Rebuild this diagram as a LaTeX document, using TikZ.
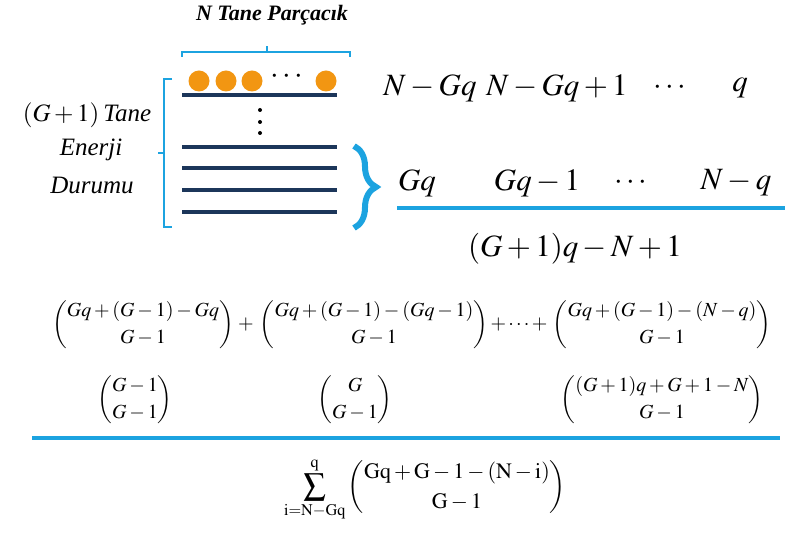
\documentclass[tikz,border=0pt]{standalone}
\usepackage{amsmath}
\usepackage{mathptmx}
\usepackage{fontspec}
\setmainfont{Liberation Serif}
\usetikzlibrary{decorations.pathreplacing}

\definecolor{lineblue}{RGB}{28,163,224}
\definecolor{levelnavy}{RGB}{28,54,90}
\definecolor{dotorange}{RGB}{242,150,18}

\begin{document}
\begin{tikzpicture}[
    x=1pt, y=-1pt,
    every node/.style={inner sep=0pt},
    level/.style={levelnavy, line width=4pt},
    bar/.style={lineblue, line width=4pt},
    bracket/.style={lineblue, line width=2pt},
    ball/.style={circle, fill=dotorange, minimum size=21pt},
    vdot/.style={circle, fill=black, minimum size=4pt},
    bigtxt/.style={font=\fontsize{31}{36}\selectfont},
    sidetxt/.style={font=\fontsize{25}{30}\selectfont},
    bintxt/.style={font=\fontsize{20}{24}\selectfont},
]
    \useasboundingbox (0,0) rectangle (790,534);

    % particles and levels
    \node[font=\fontsize{22}{24}\selectfont\bfseries\itshape] (title) at (272,15) {N Tane Parçacık};
    \draw[bracket] (182,57) -- (182,52) -- (350,52) -- (350,57);
    \draw[bracket] (267,52) -- (267,46);
    \foreach \x/\n in {199/a,226/b,252/c,326/d}
        \node[ball] (ball\n) at (\x,81) {};
    \node[bigtxt] (hdots) at (289,77) {$\cdots$};
    \foreach \y in {95,147,168,190,212}
        \draw[level] (182,\y) -- (337,\y);
    \foreach \y/\n in {110/a,122/b,133/c}
        \node[vdot] (vdot\n) at (260,\y) {};

    % left side
    \draw[bracket] (172,79) -- (164,79) -- (164,227) -- (172,227);
    \draw[bracket] (164,153) -- (158,153);
    \node[sidetxt] (lblA) at (87,115) {$(G+1)$\,\textit{Tane}};
    \node[sidetxt] (lblB) at (91,150) {\textit{Enerji}};
    \node[sidetxt] (lblC) at (92,185) {\textit{Durumu}};

    % right side
    \draw[lineblue, line width=6pt, decorate,
          decoration={brace, amplitude=22pt, aspect=0.5}] (354,146) -- (354,228);
    \node[bigtxt] (topA) at (430,88) {$N-Gq$};
    \node[bigtxt] (topB) at (557,88) {$N-Gq+1$};
    \node[bigtxt] (topC) at (672,88) {$\cdots$};
    \node[bigtxt] (topD) at (740,88) {$q$};
    \node[bigtxt] (lowA) at (417,183) {$Gq$};
    \node[bigtxt] (lowB) at (537,183) {$Gq-1$};
    \node[bigtxt] (lowC) at (633,183) {$\cdots$};
    \node[bigtxt] (lowD) at (736,183) {$N-q$};
    \draw[bar] (397,208) -- (785,208);
    \node[bigtxt] (count) at (575,249) {$(G+1)q-N+1$};

    % binomials
    \node[bintxt] (binA) at (143,325) {$\dbinom{Gq+(G-1)-Gq}{G-1}$};
    \node[bintxt] (plusA) at (246,325) {$+$};
    \node[bintxt] (binB) at (374,325) {$\dbinom{Gq+(G-1)-(Gq-1)}{G-1}$};
    \node[bintxt] (plusB) at (519,325) {$+\cdots+$};
    \node[bintxt] (binC) at (662,325) {$\dbinom{Gq+(G-1)-(N-q)}{G-1}$};
    \node[bintxt] (redA) at (135,400) {$\dbinom{G-1}{G-1}$};
    \node[bintxt] (redB) at (355,400) {$\dbinom{G}{G-1}$};
    \node[bintxt] (redC) at (662,400) {$\dbinom{(G+1)q+G+1-N}{G-1}$};
    \draw[bar] (32,438) -- (780,438);
    \node[font=\fontsize{22}{26}\selectfont] (total) at (425,490)
        {$\displaystyle\sum_{\mathrm{i=N-Gq}}^{\mathrm{q}}
          \binom{\mathrm{Gq+G-1-(N-i)}}{\mathrm{G-1}}$};
\end{tikzpicture}
\end{document}
